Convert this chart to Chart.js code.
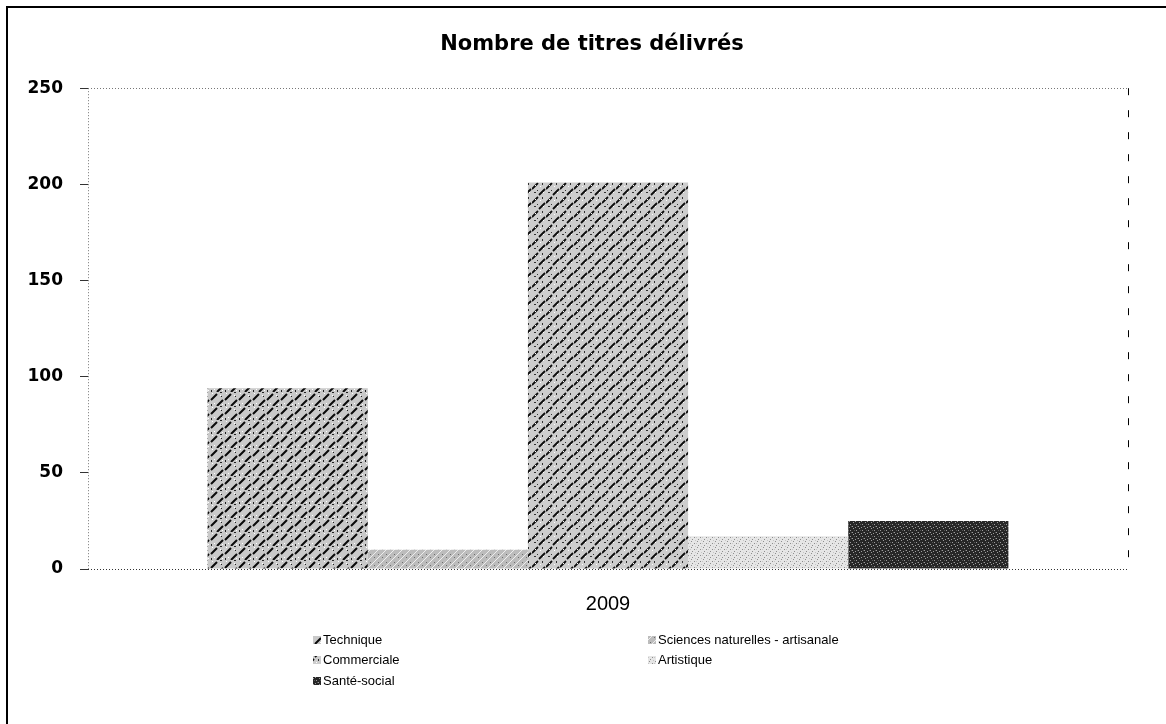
<!DOCTYPE html>
<html>
<head>
<meta charset="utf-8">
<script src="https://cdn.jsdelivr.net/npm/chart.js@4/dist/chart.umd.min.js"></script>
<style>
    html, body { margin: 0; padding: 0; background: #fff; }
    #wrap { position: relative; width: 1166px; height: 724px; }
</style>
</head>
<body>
<div id="wrap"><canvas id="titresChart"></canvas></div>
<script>
// Data
const categories = ['2009'];
const seriesLabels = ['Technique', 'Sciences naturelles - artisanale', 'Commerciale', 'Artistique', 'Santé-social'];
const technique = [94];
const sciencesNaturelles = [10];
const commerciale = [201];
const artistique = [17];
const santeSocial = [25];
const yTicks = [0, 50, 100, 150, 200, 250];

// Grey fill patterns, like the old print-style Excel fills
function makePattern(size, base, draw) {
    const c = document.createElement('canvas');
    c.width = size;
    c.height = size;
    const g = c.getContext('2d');
    g.fillStyle = base;
    g.fillRect(0, 0, size, size);
    draw(g);
    return g.createPattern(c, 'repeat');
}

const fills = {
    technique: makePattern(14, '#c9c9c9', g => {
        g.strokeStyle = '#0a0a0a';
        g.lineWidth = 2;
        g.beginPath();
        g.moveTo(1, 8); g.lineTo(7, 2);
        g.moveTo(7, 14); g.lineTo(13, 8);
        g.stroke();
        g.fillStyle = '#fff';
        g.fillRect(2, 1, 1, 1); g.fillRect(10, 3, 1, 1); g.fillRect(4, 11, 1, 1); g.fillRect(12, 12, 1, 1);
        g.fillStyle = '#222';
        g.fillRect(10, 0, 2, 1); g.fillRect(1, 12, 1, 2); g.fillRect(11, 4, 1, 1);
    }),
    sciences: makePattern(8, '#bcbcbc', g => {
        g.strokeStyle = '#ededed';
        g.lineWidth = 1;
        g.beginPath();
        g.moveTo(0, 8); g.lineTo(8, 0);
        g.stroke();
        g.fillStyle = '#6e6e6e';
        g.fillRect(2, 2, 1, 1); g.fillRect(6, 5, 1, 1);
    }),
    commerciale: makePattern(14, '#cdcdcd', g => {
        g.strokeStyle = '#0d0d0d';
        g.lineWidth = 1.8;
        g.beginPath();
        g.moveTo(0, 7); g.lineTo(6, 1);
        g.moveTo(7, 13); g.lineTo(13, 7);
        g.stroke();
        g.fillStyle = '#333';
        g.fillRect(10, 1, 1, 2); g.fillRect(2, 10, 2, 1); g.fillRect(5, 8, 1, 1);
        g.fillStyle = '#fff';
        g.fillRect(3, 3, 1, 1); g.fillRect(11, 10, 1, 1); g.fillRect(8, 4, 1, 1);
    }),
    artistique: makePattern(6, '#e6e6e6', g => {
        g.fillStyle = '#8e8e8e';
        g.fillRect(1, 1, 1, 1); g.fillRect(4, 3, 1, 1); g.fillRect(2, 5, 1, 1);
        g.fillStyle = '#c6c6c6';
        g.fillRect(5, 0, 1, 1); g.fillRect(0, 3, 1, 1);
    }),
    sante: makePattern(6, '#262626', g => {
        g.fillStyle = '#9c9c9c';
        g.fillRect(1, 0, 1, 1); g.fillRect(4, 2, 1, 1); g.fillRect(0, 4, 1, 1); g.fillRect(3, 5, 1, 1);
        g.fillStyle = '#555';
        g.fillRect(2, 2, 1, 1); g.fillRect(5, 4, 1, 1);
    })
};

const seriesData = [technique, sciencesNaturelles, commerciale, artistique, santeSocial];
const seriesFills = [fills.technique, fills.sciences, fills.commerciale, fills.artistique, fills.sante];

// Outer frame (top and left edges only, the rest is cut off in the reference)
const frame = {
    id: 'frame',
    beforeDraw(chart) {
        const ctx = chart.ctx;
        ctx.save();
        ctx.fillStyle = '#000';
        ctx.fillRect(6, 6, chart.width - 6, 2);
        ctx.fillRect(6, 6, 2, chart.height - 6);
        ctx.restore();
    }
};

// Two-column legend under the axis
const legendGrid = {
    id: 'legendGrid',
    afterDraw(chart) {
        const ctx = chart.ctx;
        const colX = [313, 648];
        const rowY = [640, 660, 681];
        ctx.save();
        ctx.font = '13px "Liberation Sans", Arial, sans-serif';
        ctx.textBaseline = 'middle';
        ctx.textAlign = 'left';
        chart.data.datasets.forEach((ds, i) => {
            const x = colX[i % 2];
            const y = rowY[Math.floor(i / 2)];
            ctx.fillStyle = ds.backgroundColor;
            ctx.fillRect(x, y - 4, 8, 8);
            ctx.fillStyle = '#000';
            ctx.fillText(ds.label, x + 10, y);
        });
        ctx.restore();
    }
};

const ctx = document.getElementById('titresChart');
new Chart(ctx, {
    type: 'bar',
    data: {
        labels: categories,
        datasets: seriesLabels.map((label, i) => ({
            label: label,
            data: seriesData[i],
            backgroundColor: seriesFills[i],
            borderWidth: 0,
            categoryPercentage: 0.77,
            barPercentage: 1.0
        }))
    },
    options: {
        responsive: true,
        maintainAspectRatio: false,
        animation: false,
        layout: {
            padding: { left: 18, right: 0, top: 0, bottom: 0 }
        },
        plugins: {
            legend: { display: false },
            tooltip: { enabled: false },
            title: {
                display: true,
                text: 'Nombre de titres délivrés',
                color: '#000',
                font: { family: '"DejaVu Sans", Arial, sans-serif', size: 21, weight: 'bold' },
                padding: { top: 32, bottom: 31 }
            }
        },
        scales: {
            x: {
                afterFit: scale => { scale.height = 155; },
                ticks: {
                    color: '#000',
                    padding: 23,
                    font: { family: '"Liberation Sans", Arial, sans-serif', size: 20 }
                },
                grid: {
                    offset: true,
                    drawTicks: false,
                    lineWidth: 1,
                    color: c => c.type === 'tick' ? '#777' : '#000'
                },
                border: {
                    display: false,
                    dash: c => c.type === 'tick' ? [1, 2] : [7, 15]
                }
            },
            y: {
                min: 0,
                max: 250,
                afterFit: scale => { scale.width = 70; },
                afterBuildTicks: scale => { scale.ticks = yTicks.map(v => ({ value: v })); },
                ticks: {
                    color: '#000',
                    padding: 17,
                    font: { family: '"DejaVu Sans", Arial, sans-serif', size: 17, weight: 'bold' }
                },
                grid: {
                    tickLength: 8,
                    tickColor: '#333',
                    tickBorderDash: [],
                    lineWidth: 1,
                    color: c => {
                        if (c.tick && c.tick.value === 250) return '#777';
                        if (c.tick && c.tick.value === 0) return '#333';
                        return 'rgba(0,0,0,0)';
                    }
                },
                border: {
                    display: false,
                    dash: [1, 2]
                }
            },
            // empty right-hand axis, only reserves the white margin on the right
            yRight: {
                position: 'right',
                min: 0,
                max: 250,
                afterFit: scale => { scale.width = 38; },
                ticks: { display: false },
                grid: { display: false, drawTicks: false },
                border: { display: false }
            }
        }
    },
    plugins: [frame, legendGrid]
});
</script>
</body>
</html>
